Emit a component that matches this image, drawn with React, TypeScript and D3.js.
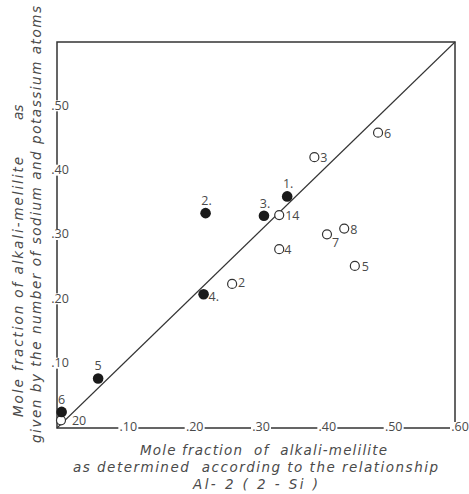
import React from "react";
import * as d3 from "d3";

const filledLabels = ["1.", "2.", "3.", "4.", "5", "6"];
const filledX = [0.347, 0.224, 0.312, 0.221, 0.062, 0.007];
const filledY = [0.360, 0.334, 0.330, 0.208, 0.077, 0.025];

const openLabels = ["2", "3", "4", "5", "6", "7", "8", "14", "20"];
const openX = [0.264, 0.388, 0.335, 0.449, 0.484, 0.407, 0.433, 0.335, 0.006];
const openY = [0.224, 0.421, 0.278, 0.252, 0.459, 0.301, 0.310, 0.331, 0.012];

const tickValues = [0.1, 0.2, 0.3, 0.4, 0.5, 0.6];
const xTickLabels = [".10", ".20", ".30", ".40", ".50", ".60"];
const yTickLabels = [".10", ".20", ".30", ".40", ".50"];

const xTitle = ["Mole fraction  of  alkali-melilite", "as determined  according to the relationship", "Al- 2 ( 2 - Si )"];
const yTitle = ["Mole fraction of alkali-melilite", "as", "given by the number of sodium and potassium atoms"];

const W = 469, H = 494;
const L = 57, R = 455, T = 42, B = 428;
const ink = "#333";
const textInk = "#4a4a4a";
const labelFont = "'Open Sans', 'DejaVu Sans', sans-serif";
const titleFont = "'DejaVu Sans', sans-serif";
const titleSize = 13.5;

// label placement (style only)
const filledPlace: Record<string, [number, number, string]> = {
  "1.": [1, -8, "middle"], "2.": [1, -8, "middle"], "3.": [1, -8, "middle"],
  "4.": [5, 7, "start"], "5": [0, -8, "middle"], "6": [0, -8, "middle"],
};
const openPlace: Record<string, [number, number]> = {
  "2": [6, 3], "3": [6, 5], "4": [5, 5], "5": [7, 5], "6": [6, 5],
  "7": [5, 13], "8": [6, 5], "14": [6, 5], "20": [11, 5],
};

export default function App() {
  const x = d3.scaleLinear().domain([0, 0.6]).range([L, R]);
  const y = d3.scaleLinear().domain([0, 0.6]).range([B, T]);
  const line = d3.line<[number, number]>().x((d) => x(d[0])).y((d) => y(d[1]));

  return (
    <svg width={W} height={H} style={{ position: "absolute", left: 0, top: 0, background: "#fff" }}>
      <rect x={0} y={0} width={W} height={H} fill="#fff" />
      {/* frame */}
      <rect x={L} y={T} width={R - L} height={B - T} fill="none" stroke={ink} strokeWidth={1.5} />
      {/* diagonal */}
      <path d={line([[0, 0], [0.6, 0.6]]) || ""} stroke={ink} strokeWidth={1.1} fill="none" />

      {/* y tick labels */}
      {tickValues.slice(0, 5).map((v, i) => (
        <g key={"yt" + i}>
          <rect x={L - 5} y={y(v) - 6} width={16} height={11} fill="#fff" />
          <text x={L + 3} y={y(v)} dominantBaseline="middle" textAnchor="middle"
            fontFamily={labelFont} fontSize={12.5} fill={textInk}>{yTickLabels[i]}</text>
        </g>
      ))}
      {/* x tick labels */}
      {tickValues.map((v, i) => (
        <g key={"xt" + i}>
          <rect x={x(v) + 5 - 10} y={B - 6} width={20} height={11} fill="#fff" />
          <text x={x(v) + 5} y={B} dominantBaseline="middle" textAnchor="middle"
            fontFamily={labelFont} fontSize={12.5} fill={textInk}>{xTickLabels[i]}</text>
        </g>
      ))}

      {/* open circles */}
      {openX.map((vx, i) => {
        const [dx, dy] = openPlace[openLabels[i]];
        return (
          <g key={"o" + i}>
            <circle cx={x(vx)} cy={y(openY[i])} r={4.5} fill="#fff" stroke={ink} strokeWidth={1.2} />
            <text x={x(vx) + dx} y={y(openY[i]) + dy} fontFamily={labelFont} fontSize={12.5} fill={textInk}>
              {openLabels[i]}
            </text>
          </g>
        );
      })}
      {/* filled circles */}
      {filledX.map((vx, i) => {
        const [dx, dy, anchor] = filledPlace[filledLabels[i]];
        return (
          <g key={"f" + i}>
            <circle cx={x(vx)} cy={y(filledY[i])} r={5.3} fill="#1a1a1a" />
            <text x={x(vx) + dx} y={y(filledY[i]) + dy} textAnchor={anchor}
              fontFamily={labelFont} fontSize={12.5} fill={textInk}>
              {filledLabels[i]}
            </text>
          </g>
        );
      })}

      {/* x title */}
      <text x={140} y={455} textLength={247} lengthAdjust="spacing" fontFamily={titleFont}
        fontStyle="italic" fontSize={titleSize} fill={textInk} xmlSpace="preserve">{xTitle[0]}</text>
      <text x={73} y={472} textLength={365} lengthAdjust="spacing" fontFamily={titleFont}
        fontStyle="italic" fontSize={titleSize} fill={textInk} xmlSpace="preserve">{xTitle[1]}</text>
      <text x={193} y={489} textLength={125} lengthAdjust="spacing" fontFamily={titleFont}
        fontStyle="italic" fontSize={titleSize} fill={textInk} xmlSpace="preserve">{xTitle[2]}</text>

      {/* y title */}
      <text transform="translate(23,417) rotate(-90)" textLength={260} lengthAdjust="spacing"
        fontFamily={titleFont} fontStyle="italic" fontSize={titleSize} fill={textInk}>{yTitle[0]}</text>
      <text transform="translate(23,120) rotate(-90)"
        fontFamily={titleFont} fontStyle="italic" fontSize={titleSize} fill={textInk}>{yTitle[1]}</text>
      <text transform="translate(41,443) rotate(-90)" textLength={437} lengthAdjust="spacing"
        fontFamily={titleFont} fontStyle="italic" fontSize={titleSize} fill={textInk}>{yTitle[2]}</text>
    </svg>
  );
}
